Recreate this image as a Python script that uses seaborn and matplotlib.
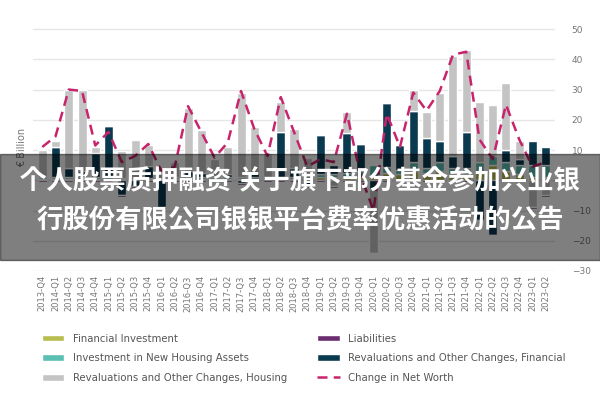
import matplotlib.pyplot as plt
import numpy as np
import seaborn as sns
from matplotlib import font_manager
from matplotlib.patches import Rectangle

QUARTERS = [f"{y}-Q{q}" for y in range(2013, 2024) for q in range(1, 5)][3:42]

fin_invest = [0.5, 0.5, 0.5, 0.5, 0.5, 0.5, 0.3, 0.3, 0.3, 0.3, 0.5, 0.5, 0.5, 0.5, 0.5, 0.5, 0.5, 0.5, 0.5, 0.5,
              0.5, 1, 1, 1, 1, 1, 2.5, 2, 3, 2.5, 3, 2, 2, 3, 5, 3, 2, 1, 1]
housing_invest = [0.5, 0.5, 0.5, 0.5, 0.5, 0.5, 0.5, 0.5, 0.5, 0.5, 0.5, 0.5, 0.5, 0.5, 0.5, 0.5, 0.5, 0.5, 0.5, 0.5,
                  1, 1, 1, 1.5, 2, 4, 2, 1.5, 3, 1.5, 3, 2, 2, 3, 3, 3, 3, 4, 4]
fin_reval = [0, 10, 3, 2, 8, 17, -5, -2, 4, -9, 0, 2, 1.5, 0, 1, -1, 1.5, 0, 15, 3,
             -2, 13, 3, 13, 9, -3, 21, 8, 17, 10, 7, 4, 12, -13, -18, 4, 2, 8, 6]
housing_reval = [9, 2, 26, 27, 2, 0, 9, 12.5, 7, 3, 5, 21, 14, 6, 9, 28, 15, 8, 10, 13,
                 6, 0, -2, 7, 0, -21, 0, 0, 7, 8.5, 16, 33, 27, 20, 17, 22, 6, -9, -5]
liabilities = [-0.5] * 39
net_worth = [11, 14.5, 30, 29.5, 11.5, 16, 6, 8, 12, 3, 4.5, 24.5, 16, 7.5, 12.5, 29.5, 17, 8, 27.5, 16,
             4.5, 7, 6, 22, 2, -10, 22, 11, 29, 23, 29.5, 41.5, 42.5, 13.5, 7, 25, 13.5, 4.5, 6]

SERIES = [
    ("Financial Investment", fin_invest, "#b7bd4e"),
    ("Investment in New Housing Assets", housing_invest, "#5cbfb3"),
    ("Revaluations and Other Changes, Financial", fin_reval, "#0a3a50"),
    ("Revaluations and Other Changes, Housing", housing_reval, "#c4c4c4"),
    ("Liabilities", liabilities, "#6b2d6f"),
]

# locate a CJK font file directly
cjk = None
for f in font_manager.findSystemFonts():
    if "NotoSansCJK" in f.replace(" ", "") and ("Bold" in f or cjk is None):
        cjk = f
        if "Bold" in f:
            break
cjk_prop = font_manager.FontProperties(fname=cjk, size=19) if cjk else \
    font_manager.FontProperties(family="Noto Sans CJK SC", size=19, weight="bold")

sns.set_theme(style="white")
fig = plt.figure(figsize=(6, 4), dpi=100)
ax = fig.add_axes([0.055, 0.3225, 0.87, 0.62])

x = np.arange(len(QUARTERS))
pos = np.zeros(len(x))
neg = np.zeros(len(x))
handles = {}
for name, vals, color in SERIES:
    v = np.array(vals, dtype=float)
    bottom = np.where(v >= 0, pos, neg)
    handles[name] = ax.bar(x, v, 0.68, bottom=bottom, color=color, zorder=2)
    pos += np.clip(v, 0, None)
    neg += np.clip(v, None, 0)

sns.lineplot(x=x, y=net_worth, ax=ax, color="#c8246c", linestyle=(0, (4, 2.5)), linewidth=1.8, zorder=3)
handles["Change in Net Worth"] = ax.lines[-1]

ax.set_xlim(-0.7, len(x) - 0.3)
ax.set_ylim(-30, 52)
ax.set_yticks(range(-30, 51, 10))
ax.yaxis.tick_right()
ax.tick_params(axis="y", labelsize=6.5, colors="#777777", length=0, pad=12)
ax.set_xticks(x)
ax.set_xticklabels(QUARTERS, rotation=90, fontsize=6, color="#777777")
ax.tick_params(axis="x", length=0, pad=3)
ax.grid(axis="y", color="#e6e6e6", linewidth=1, zorder=0)
for s in ax.spines.values():
    s.set_visible(False)
ax.set_ylabel("€ Billion", fontsize=7, color="#777777", labelpad=4)

order = ["Financial Investment", "Investment in New Housing Assets",
         "Revaluations and Other Changes, Housing", "Liabilities",
         "Revaluations and Other Changes, Financial", "Change in Net Worth"]
fig.legend([handles[k] for k in order], order, loc="lower left", bbox_to_anchor=(0.055, 0.02),
           ncol=2, frameon=False, fontsize=7.3, handlelength=2.2, handleheight=0.6,
           columnspacing=3, labelspacing=0.95, labelcolor="#555555")

fig.patches.append(Rectangle((0, 0.35), 1, 0.265, transform=fig.transFigure,
                             color="black", alpha=0.5, zorder=10))
fig.text(0.5, 0.545, "个人股票质押融资 关于旗下部分基金参加兴业银", ha="center", va="center",
         color="white", fontproperties=cjk_prop, fontweight="bold", zorder=11)
fig.text(0.5, 0.448, "行股份有限公司银银平台费率优惠活动的公告", ha="center", va="center",
         color="white", fontproperties=cjk_prop, fontweight="bold", zorder=11)

fig.savefig("out.png", dpi=100)
